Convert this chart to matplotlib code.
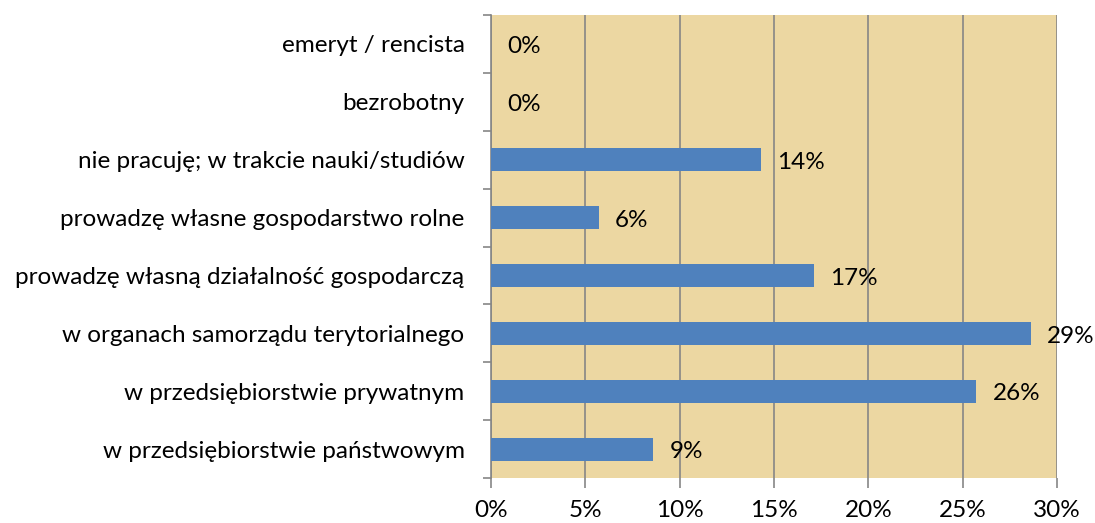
import numpy as np
import matplotlib.pyplot as plt

# categories bottom -> top (as drawn)
categories = [
    'w przedsiębiorstwie państwowym',
    'w przedsiębiorstwie prywatnym',
    'w organach samorządu terytorialnego',
    'prowadzę własną działalność gospodarczą',
    'prowadzę własne gospodarstwo rolne',
    'nie pracuję; w trakcie nauki/studiów',
    'bezrobotny',
    'emeryt / rencista',
]
shares = [8.6, 25.7, 28.6, 17.1, 5.7, 14.3, 0.0, 0.0]
value_labels = ['9%', '26%', '29%', '17%', '6%', '14%', '0%', '0%']
x_ticks = [0, 5, 10, 15, 20, 25, 30]

plt.rcParams['font.family'] = ['Lato', 'DejaVu Sans']
fs = 17.5

fig = plt.figure(figsize=(10.95, 5.23), dpi=100)
ax = fig.add_axes([0.4484, 0.0860, 0.5169, 0.8853])
ax.set_facecolor('#ECD7A2')

y = np.arange(len(categories))
ax.barh(y, shares, height=0.4, color='#4F81BD', zorder=3)

for yi, v, lab in zip(y, shares, value_labels):
    ax.annotate(lab, (v, yi), xytext=(12, -2), textcoords='offset points',
                va='center', ha='left', fontsize=fs, color='black', zorder=4)

ax.set_xlim(0, 30)
ax.set_ylim(-0.5, len(categories) - 0.5)
ax.set_xticks(x_ticks)
ax.set_xticklabels([f'{t}%' for t in x_ticks], fontsize=fs)
ax.set_yticks(y)
ax.set_yticklabels(categories, fontsize=fs)
ax.tick_params(axis='y', length=0, pad=19)
ax.set_yticks(np.arange(-0.5, len(categories)), minor=True)
ax.tick_params(axis='y', which='minor', length=6, color='#868686', width=1.2)
ax.tick_params(axis='x', length=7, color='#868686', width=1.2, pad=9)

ax.grid(True, axis='x', color='#868686', linewidth=1.2, zorder=1)
for side in ['top', 'right', 'bottom']:
    ax.spines[side].set_visible(False)
ax.spines['left'].set_color('#868686')
ax.spines['left'].set_linewidth(1.2)

fig.savefig('out.png', dpi=100)
